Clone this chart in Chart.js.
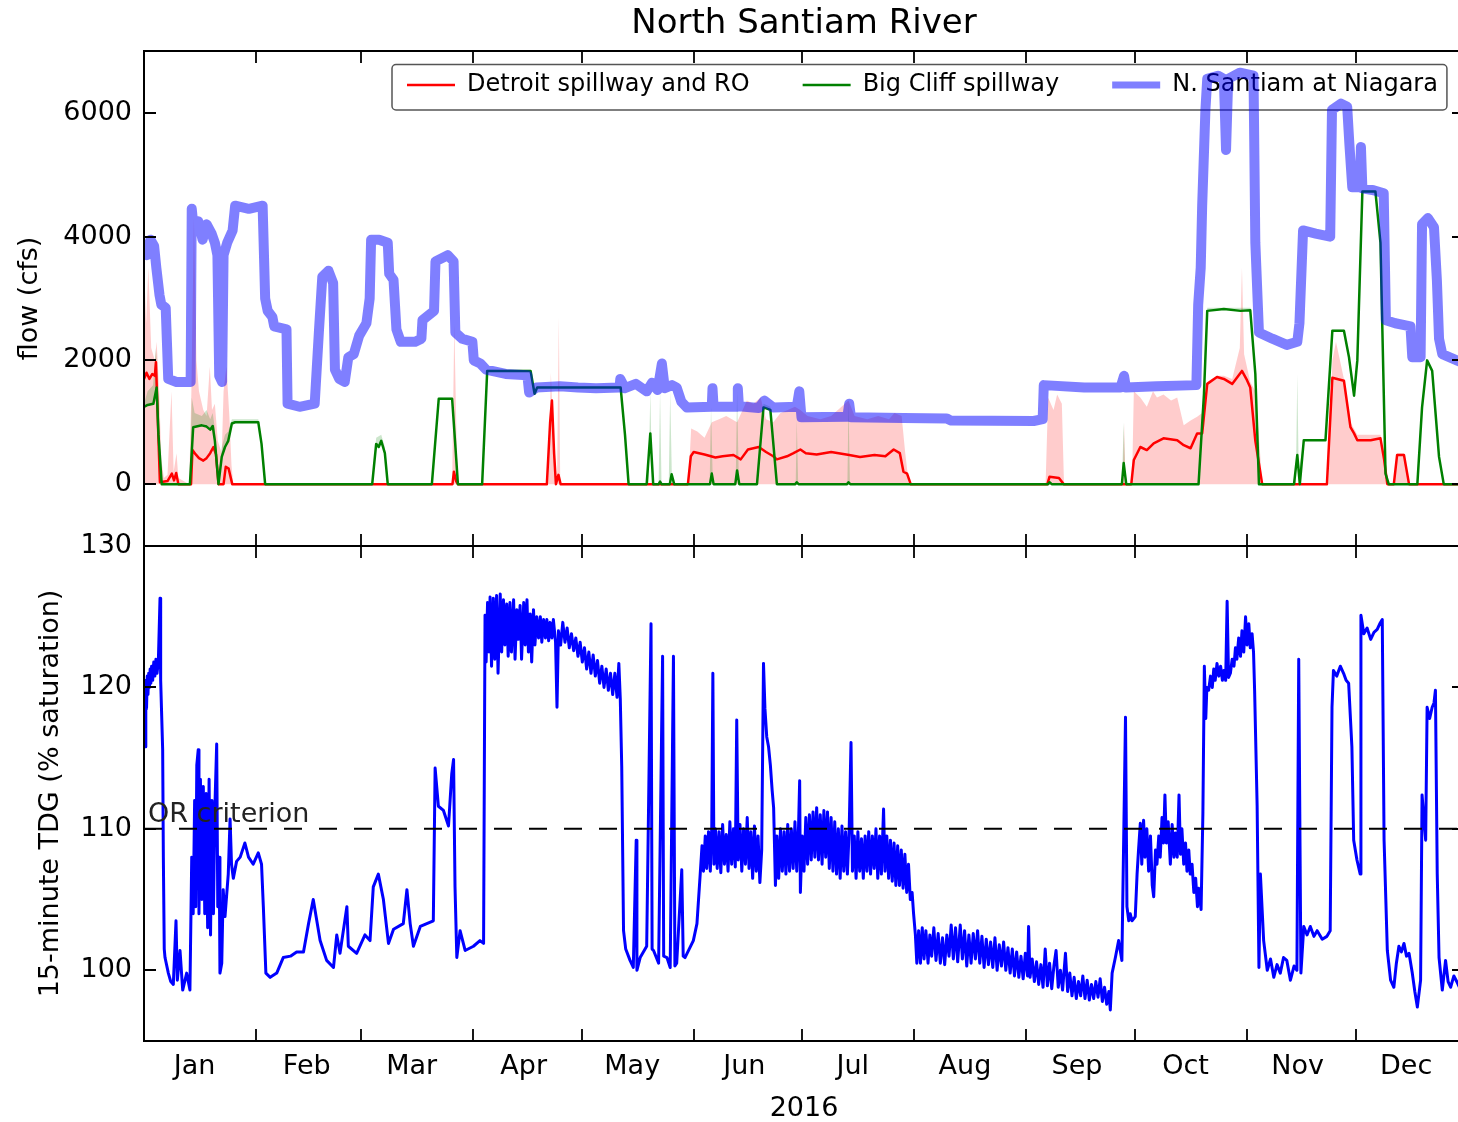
<!DOCTYPE html>
<html>
<head>
<meta charset="utf-8">
<title>North Santiam River</title>
<script src="https://cdn.jsdelivr.net/npm/chart.js@4.4.1/dist/chart.umd.min.js"></script>
<style>
  html, body { margin: 0; padding: 0; background: #fff; overflow: hidden; }
  #wrap { position: relative; width: 1466px; height: 1122px; }
</style>
</head>
<body>
<div id="wrap"><canvas id="riverChart" width="1466" height="1122"></canvas></div>
<script>
// ==========================
// North Santiam River – flow and TDG, 2016
// ==========================

// x values are days since 1 Jan 2016
const monthNames = ["Jan", "Feb", "Mar", "Apr", "May", "Jun", "Jul", "Aug", "Sep", "Oct", "Nov", "Dec"];
const monthStart = [0, 31, 60, 91, 121, 152, 182, 213, 244, 274, 305, 335];
const yearEnd = 365;
const flowTicks = [0, 2000, 4000, 6000];
const tdgTicks = [100, 110, 120, 130];
const orCriterion = 110;

// [day, cfs] – N. Santiam at Niagara
const niagara = [[0,3950],[0.8,3700],[1.8,3950],[2.8,3850],[3.4,3500],[4.3,3050],[4.8,2900],[6,2850],[6.4,2200],[6.7,1700],[9,1650],[12.9,1650],[13.2,4450],[13.8,4100],[15,4250],[16.2,3950],[17.3,4200],[18.7,4050],[19.6,3900],[20.3,3700],[20.8,1750],[21.6,1650],[22,3700],[23,3900],[24.5,4100],[25.2,4500],[29,4450],[32.8,4500],[33.5,3000],[34.2,2800],[35.5,2700],[36,2550],[39.4,2500],[39.7,1300],[43,1250],[47.2,1300],[47.8,1900],[48.4,2500],[49.3,3350],[51,3450],[52.3,3250],[52.8,1850],[54,1700],[55.5,1650],[56.5,2050],[58,2100],[59.5,2400],[61.5,2600],[62.4,3000],[62.8,3950],[65,3950],[67.4,3900],[67.8,3400],[69,3300],[69.8,2500],[71,2300],[75,2300],[76.7,2350],[77,2650],[80.2,2800],[80.6,3600],[84,3700],[85.6,3600],[86.1,2450],[88,2350],[90.8,2300],[91.2,2000],[93,1950],[94.6,1850],[100,1780],[106,1760],[106.5,1480],[108.5,1560],[115,1580],[120,1560],[125,1550],[131.5,1560],[131.7,1700],[133,1550],[136,1620],[139,1500],[140.5,1640],[142,1520],[143.2,1950],[144,1550],[146,1600],[147.3,1560],[148.6,1330],[150.1,1240],[157,1250],[157.2,1550],[157.5,1250],[164,1250],[164.2,1550],[164.5,1260],[170,1230],[171.5,1350],[174,1240],[180.5,1250],[181.2,1500],[181.8,1080],[194.5,1090],[195,1300],[195.5,1080],[210,1070],[222,1060],[223,1030],[246,1020],[248.5,1050],[248.8,1600],[260,1560],[270,1560],[271,1750],[271.5,1560],[280,1580],[291,1600],[291.5,2900],[292.2,3500],[292.6,4500],[293.5,6050],[294,6550],[297,6600],[298.6,6550],[299.2,5400],[299.8,6550],[303,6650],[306.8,6600],[307.3,3900],[308.3,2450],[312,2350],[316,2250],[318.9,2300],[319.5,2600],[320.5,4100],[324,4050],[328,4000],[328.5,6050],[331,6150],[332.7,6100],[333.3,5500],[334.1,4800],[336.2,4800],[336.5,5450],[336.9,4780],[340,4750],[342.8,4700],[343.4,2650],[346,2600],[350.2,2550],[350.7,2050],[353,2050],[353.4,4200],[355,4300],[356.7,4150],[357.5,3300],[358.1,2350],[359,2100],[363,2000],[365,1950]];

// [day, cfs] – Detroit spillway and RO, daily mean
const detroitMean = [[0,1700],[0.7,1800],[1.5,1700],[2.3,1780],[3,1750],[3.3,1970],[3.9,900],[4.4,30],[6.5,50],[7.7,170],[8.3,60],[8.9,180],[9.5,0],[13,0],[13.4,550],[14.3,480],[15.2,420],[16.4,380],[17.3,420],[18.3,500],[19.2,600],[19.9,480],[20.6,0],[22,0],[22.6,280],[23.4,250],[24.4,0],[85.3,0],[85.7,200],[86.3,50],[86.8,0],[111.4,0],[112.3,1000],[112.8,1350],[113.4,500],[113.9,0],[114.6,150],[115.2,0],[150.4,0],[151.2,450],[152,520],[155,480],[158,430],[160,450],[163,470],[165,400],[167,560],[170,600],[172,520],[174,450],[175,400],[177.8,450],[179.6,500],[181.5,560],[183,500],[186,480],[190,520],[195,470],[198,440],[202,470],[205,450],[207.3,560],[209,500],[210,200],[211,170],[212,0],[249.8,0],[250.4,120],[253,100],[254.3,0],[273,0],[273.7,390],[275.5,600],[277.3,550],[279.2,660],[281.9,740],[285.7,710],[287.5,630],[289.4,580],[291.2,820],[292.6,820],[294,1620],[296.7,1730],[298.6,1700],[300.9,1620],[303.6,1830],[305,1680],[305.9,1560],[307.3,700],[309.2,0],[327.1,0],[328.6,1720],[331.8,1670],[333.6,920],[334.6,820],[335.5,710],[339.2,710],[341.9,740],[342.9,400],[343.8,0],[345.6,0],[346.5,470],[348.4,470],[349.8,0],[365,0]];

// [day, cfs] – Detroit spillway and RO, daily maximum (shaded down to zero)
const detroitMax = [[0,3600],[0.6,2600],[1.2,3500],[2,2200],[3,2000],[3.5,2300],[4.2,1500],[4.8,400],[5.5,100],[6.5,150],[7.6,1500],[8.2,200],[9,500],[9.5,100],[12.5,0],[13.1,1500],[13.8,4300],[14.5,2000],[15.2,1500],[16.4,1200],[17.3,1100],[18.2,1900],[18.8,1200],[19.6,1300],[20.4,700],[21.5,500],[22,1500],[22.8,1900],[23.6,1100],[24.2,300],[24.7,0],[85.2,0],[85.8,2600],[86.5,500],[87,0],[111.8,0],[112.5,1800],[113.2,800],[114.2,0],[114.7,2700],[115.1,0],[150.5,0],[151.3,900],[153,850],[155,750],[157,1000],[159,1050],[161,1100],[164,1000],[166.7,1350],[168.5,1300],[170.5,1400],[172,1050],[174,1000],[176,1150],[178,1200],[180,1250],[181.5,1200],[183.5,1100],[187,1050],[190,1100],[194.8,1350],[196.5,1100],[200,1050],[203,1100],[206,1050],[207.5,1150],[209.5,1100],[210.5,500],[211.5,0],[249.3,0],[250,1400],[251.5,1200],[252.5,1450],[253.8,1300],[254.4,0],[270.6,0],[271,1000],[271.4,0],[273.2,0],[273.7,1500],[275.5,1400],[277.3,1250],[279,1500],[280.1,1400],[281.9,1450],[284,1350],[285.7,1400],[287.5,950],[289.4,1030],[291.2,1090],[292.6,1150],[294,1650],[296.7,1750],[298.6,1750],[300.9,1700],[303,2200],[303.6,3500],[304.2,2100],[305.9,1650],[307.3,1500],[308.5,600],[309.2,0],[327.5,0],[328.6,2000],[329.6,2300],[331.8,1700],[333.6,1000],[335.5,800],[341.9,800],[342.9,500],[343.8,0],[345.6,0],[346.5,500],[348.4,500],[349.8,0],[365,0]];

// [day, cfs] – Big Cliff spillway, daily mean
const bigCliffMean = [[0,1250],[1,1280],[2.6,1300],[3.5,1560],[4,800],[4.9,0],[12.7,0],[13.6,920],[16,950],[17.3,930],[18.3,880],[19,940],[19.6,700],[20.6,0],[21.5,440],[22.4,600],[23.3,700],[24.3,980],[25.2,1000],[31.6,1000],[32.5,650],[33.5,0],[63.1,0],[64.2,650],[64.9,600],[65.6,700],[66.6,500],[67.4,0],[79.6,0],[81.5,1380],[85.2,1380],[86,700],[86.8,0],[93.5,0],[94.9,1830],[106.9,1830],[108,1460],[108.7,1560],[131.8,1560],[133,800],[134,0],[139,0],[140,820],[140.8,0],[142.3,0],[142.7,40],[143.1,0],[145.4,0],[145.9,160],[146.6,0],[156.5,0],[157,170],[157.5,0],[163.5,0],[164,220],[164.6,0],[169.5,0],[171.3,1240],[173.2,1200],[175,0],[180.1,0],[180.5,30],[181,0],[194.4,0],[194.8,30],[195.3,0],[250,0],[250.4,30],[251,0],[270.4,0],[270.9,340],[271.6,0],[291.6,0],[293.1,1460],[294,2800],[298.6,2830],[303.2,2800],[305.9,2810],[307.3,1780],[308.3,0],[318,0],[318.9,470],[319.6,0],[320.7,710],[326.7,710],[328.6,2480],[331.8,2480],[333.2,2050],[334.6,1430],[335.5,2000],[336.9,4730],[340.5,4730],[341.9,3900],[343.3,170],[344.2,0],[352.1,0],[353.4,1240],[354.8,2000],[356.2,1830],[358.1,440],[359.4,0],[365,0]];

// [day, cfs] – Big Cliff spillway, daily maximum (shaded down to the mean)
const bigCliffMax = [[0,1300],[1,1500],[2.5,1600],[3.3,2200],[3.8,1700],[4.3,600],[4.9,0],[12.7,0],[13.2,1400],[14,1150],[16,1100],[17.3,1200],[18.3,1050],[19,1150],[19.6,900],[20.6,100],[21.5,600],[22.4,800],[23.3,850],[24.3,1050],[25.2,1050],[31.6,1050],[32.5,700],[33.5,0],[63.1,0],[64.2,750],[65.6,800],[66.6,600],[67.4,0],[79.6,0],[81.5,1400],[85.2,1400],[86,750],[86.8,0],[93.5,0],[94.9,1850],[106.9,1850],[108,1500],[108.7,1580],[131.8,1580],[133,900],[134,0],[139.5,0],[140,1500],[140.5,0],[142.3,0],[142.7,1500],[143.1,0],[145.1,0],[145.5,1500],[146,0],[156.4,0],[156.8,1250],[157.3,0],[163.6,0],[164,1500],[164.5,0],[169.5,0],[171.3,1300],[173.2,1250],[175,0],[180.2,0],[180.5,1050],[180.9,0],[194.5,0],[194.8,1350],[195.2,0],[270.4,0],[270.9,1000],[271.4,0],[291.6,0],[293.1,1500],[294,2850],[306,2850],[307.3,1800],[308.3,0],[318.5,0],[318.9,1780],[319.3,200],[320.7,720],[326.7,720],[328.6,2500],[331.8,2500],[333.2,2100],[334.6,1450],[335.5,2050],[336.9,4750],[340.5,4750],[341.9,3950],[343.3,200],[344.2,0],[352.1,0],[353.4,1260],[354.8,2020],[356.2,1850],[358.1,450],[359.4,0],[365,0]];

// [day, % saturation] – 15-minute TDG
const tdg = [[0.28,115.8],[0.5,120.5],[0.7,118.5],[0.9,120.8],[1.1,119.5],[1.3,121],[1.5,120],[1.7,121.3],[1.9,120.3],[2.1,121.5],[2.4,120.5],[2.7,121.8],[3,120.8],[3.3,122],[3.6,121],[3.96,121.8],[4.43,126.3],[4.61,120.5],[4.89,118],[5.16,115.6],[5.35,108],[5.6,101.5],[5.81,100.9],[6.73,99.8],[7.4,99.2],[8.11,99],[8.85,103.5],[9.22,99.3],[9.96,101.4],[10.7,98.6],[11.8,99.8],[12.7,98.6],[13.2,108],[13.6,104],[14,112],[14.3,104.5],[14.6,114.5],[15,115.6],[15.2,104],[15.6,113.5],[16,105],[16.4,113],[16.8,104],[17.2,112.5],[17.6,103],[18,113.5],[18.4,102.5],[18.8,112],[19.2,104],[19.6,111.5],[20.1,116],[20.4,104.5],[20.8,108],[21,99.8],[21.5,100.5],[21.9,105.7],[22.4,103.8],[23.3,106.8],[23.8,110.7],[24.2,107.5],[24.7,106.5],[25.6,107.7],[26.6,108],[27.9,109],[28.9,108],[30.2,107.5],[31.6,108.3],[32.5,107.5],[33,104.5],[33.7,99.8],[34.9,99.5],[36.7,99.8],[38.5,100.9],[40.5,101],[42.2,101.3],[44.1,101.3],[45.5,103.3],[46.8,105],[48.7,102.1],[50.5,100.7],[52.4,100.2],[53.3,102.5],[54.2,101.2],[56.1,104.5],[56.5,101.7],[58.8,101.2],[61.1,102.5],[62.5,102.1],[63.4,105.9],[64.8,106.8],[66.2,105],[67.6,101.9],[69,102.9],[71.7,103.3],[72.7,105.7],[73.6,103.3],[74.5,101.7],[76.4,103.1],[78.2,103.3],[80,103.5],[80.5,114.3],[81.4,111.6],[82.8,111.3],[84.2,110.2],[85.1,113.9],[85.6,114.9],[86,105.9],[86.5,100.9],[87.4,102.8],[88.8,101.4],[91.1,101.7],[92.9,102.1],[93.9,101.9],
  [94.3,125.1],[94.6,121.8],[95,126],[95.4,122.5],[95.7,126.4],[96.1,121.5],[96.6,126.3],[97,122],[97.5,126.5],[97.9,121],[98.5,126.6],[98.9,122.5],[99.4,126.2],[99.8,123],[100.3,125.9],[100.7,122.2],[101.2,126],[101.6,122.5],[102.2,126.2],[102.6,122],[103.1,125.5],[103.5,123.4],[104,125.8],[104.4,122],[105,126],[105.4,123],[105.9,126.2],[106.3,122.5],[106.8,125.2],[107.2,121.8],[107.7,125.5],[108.1,123],[108.6,125],[109.1,123.5],[109.6,125],[110,123.2],[110.5,124.8],[111,123.5],[111.4,124.8],[111.9,123.3],[112.3,124.6],[112.8,123.5],[113.2,124.8],[113.8,123.2],[114.2,118.6],[114.6,124],[115.2,123],[115.8,124.6],[116.4,123.2],[117,124.2],[117.6,122.8],[118.2,123.8],[118.8,122.6],[119.4,123.5],[120,122.2],[120.6,123.2],[121.2,121.8],[121.8,122.8],[122.4,121.3],[123,122.5],[123.6,121],[124.2,122.3],[124.8,120.8],[125.4,121.9],[126,120.3],[126.6,121.5],[127.2,120],[127.8,121.3],[128.4,119.8],[129,121],[129.6,119.5],[130.2,121],[130.8,119.3],[131.3,121.7],[131.7,119.2],
  [132.1,114.4],[132.6,102.8],[133.2,101.5],[134.4,100.7],[135.3,100.2],[136.1,109.2],[136.3,100],[137.2,100.9],[139,101.7],[140.2,124.5],[140.5,101.5],[140.9,101.4],[142.3,100.5],[143.4,122.2],[143.7,101],[144.6,100.9],[145.5,100.2],[146.4,122.2],[146.8,100.3],[147.3,100.5],[148.7,107.1],[149.1,101],[149.6,100.9],[151.9,102.1],[152.9,103.3],[153.8,106.8],
  [154.3,108.8],[154.7,107],[155.2,109.5],[155.6,107.2],[156.1,109.8],[156.6,107],[157,110.2],[157.3,121],[157.6,107.5],[158,110],[158.5,107.2],[159,109.8],[159.5,106.9],[160,110.3],[160.5,107.5],[161,109.6],[161.5,107],[162,110.5],[162.5,107.5],[163,110],[163.5,107.3],[163.9,117.7],[164.3,107.8],[164.8,110.3],[165.3,107],[165.8,110],[166.3,107.5],[166.8,110.8],[167.3,107.2],[167.8,109.8],[168.3,106.5],[168.8,110.2],[169.3,107],[169.8,109.5],[170.3,106.2],[170.8,108.5],[171.3,121.7],[171.7,118.5],[172.2,116.5],[172.7,115.8],[173.2,114.5],[173.7,112.7],[174.1,111.5],[174.6,106],[175,109.5],[175.5,106.5],[176,110],[176.5,107],[177,109.8],[177.5,106.8],[178,110.3],[178.5,107],[179,110],[179.5,107.2],[180,110.5],[180.5,107],[181,110.2],[181.3,113.4],[181.5,105.5],[182,109.5],[182.5,107],[183,110.8],[183.5,107.5],[184,111],[184.5,107.8],[185,111.2],[185.5,108],[186,111.5],[186.5,107.8],[187,111],[187.5,107.5],[188,111.3],[188.5,108],[189,111.2],[189.5,107.2],[190,110.8],[190.5,107],[191,110.5],[191.5,106.8],[192,110],[192.5,106.5],[193,110.2],[193.5,107],[194,109.8],[194.5,106.8],[195,110],[195.5,116.1],[195.9,107],[196.4,109.5],[196.9,106.5],[197.4,109.8],[197.9,107],[198.4,109.3],[198.9,106.5],[199.4,109.5],[199.9,107],[200.4,109.8],[200.9,106.8],[201.4,109.5],[201.9,107.2],[202.4,110],[202.9,106.5],[203.4,109.5],[203.9,106.8],[204.5,111.4],[204.9,107],[205.4,109.5],[205.9,106.5],[206.4,109.2],[206.9,106.3],[207.4,109],[207.9,106],[208.4,108.8],[208.9,106],[209.4,108.5],[209.9,105.8],[210.4,108.2],[210.9,105.5],[211.4,107.5],[211.9,105],[212.4,105.5],[212.8,104],[213.3,102.5],[213.7,100.5],[214.2,102.8],[214.7,100.5],
  [215.2,103],[215.7,100.8],[216.2,102.8],[216.8,100.5],[217.3,102.5],[217.8,101],[218.4,103],[219,100.7],[219.6,102.6],[220.2,100.5],[220.8,102.3],[221.4,100.4],[222,102.5],[222.6,101],[223.2,103.2],[223.8,100.8],[224.4,103],[225,100.6],[225.7,103.2],[226.3,100.8],[226.9,102.8],[227.5,100.3],[228.1,102.5],[228.7,100.5],[229.3,102.6],[229.9,100.8],[230.5,102.8],[231.1,100.5],[231.7,102.4],[232.3,100.2],[232.9,102.2],[233.5,100.4],[234.1,102],[234.7,100.2],[235.3,102.3],[235.9,100],[236.5,101.8],[237.1,100.3],[237.7,102],[238.3,100],[238.9,101.6],[239.5,99.8],[240.1,101.5],[240.7,99.6],[241.3,101.3],[241.9,99.5],[242.5,101],[243.1,99.4],[243.7,101.2],[244.3,99.6],[244.6,103.1],[245,99.5],[245.6,100.8],[246.2,99.2],[246.8,100.6],[247.4,99],[248,100.4],[248.6,98.8],[249.2,101.5],[249.8,98.9],[250.4,100.5],[251,98.7],[251.6,100.3],[252.2,101.4],[252.8,98.8],[253.4,100],[254,98.6],[254.8,101.2],[255.4,98.5],[256,99.8],[256.6,98.2],[257.2,99.5],[257.8,98],[258.4,99.2],[259,98.2],[259.6,99.6],[260.2,98],[260.8,99.3],[261.4,97.9],[262,99],[262.6,98],[263.2,99.2],[263.8,98.1],[264.4,99.4],[265,97.8],[265.6,98.8],[266.2,97.6],[266.8,98.5],[267.2,97.2],[267.7,99.8],[268.6,100.9],[269.5,102.1],[270.4,100.7],[271.4,117.9],
  [271.8,104.5],[272.3,103.5],[272.7,104],[273.2,103.5],[274.1,103.8],[274.6,106.8],[275,108.5],[275.5,110.4],[275.9,107.5],[276.4,110.6],[276.8,108],[277.3,110],[277.8,107],[278.3,109.5],[278.8,106],[279.2,105.2],[279.7,108.5],[280.1,107.5],[280.6,109.5],[281,108],[281.5,110.8],[281.9,109],[282.3,112.4],[282.7,109],[283.2,110.5],[283.8,107.5],[284.3,110.3],[284.8,108],[285.2,109.7],[285.7,108],[286.2,112.4],[286.6,108.2],[287,110],[287.5,107.5],[288,109],[288.4,107],[288.9,108.5],[289.3,106.8],[289.8,107.5],[290.3,105.5],[290.8,106.5],[291.3,104.5],[291.6,105.8],[292.3,104.3],[292.8,111.1],[293.2,121.5],[293.6,117.8],[293.9,120],[294.4,119.8],[294.9,120.8],[295.4,120],[295.8,121.3],[296.2,120.5],[296.7,121.7],[297.2,120.8],[297.7,121.5],[298.2,120.5],[298.6,121.2],[299.1,120.5],[299.5,126.1],[299.9,120.7],[300.4,121],[300.9,122],[301.4,121.5],[301.8,122.8],[302.2,122],[302.7,123.5],[303.2,122.2],[303.6,124],[304.1,122.5],[304.6,125],[305,123],[305.5,124.5],[305.9,122.8],[306.4,123.8],[306.8,122.5],[307.1,119.8],
  [307.8,111.6],[308.3,100.2],[308.7,106.8],[309.6,102.1],[310.6,100],[311.5,100.8],[312.4,99.5],[313.3,100.4],[314.2,99.8],[315.1,100.9],[316,100.7],[317,99.3],[318,100.3],[318.8,100],[319.3,122],[319.9,99.8],[320.7,103.1],[321.6,102.5],[322.5,103.1],[323.5,102.4],[324.4,102.8],[325.8,102.2],[327.1,102.4],[328,102.8],[328.5,118.6],[328.9,121.2],[329.8,120.8],[330.8,121.5],[331.7,121],[332.4,120.5],[333.1,120.3],[334,115.8],[334.5,109.2],[335.4,107.8],[336.3,106.8],[336.5,125.1],[337.3,123.8],[338.2,124.2],[339.2,123.4],[340.1,123.9],[341,124.1],[341.7,124.5],[342.4,124.8],[342.9,109.2],[343.8,101.4],[344.7,99.3],[345.6,98.8],[346.3,100.5],[347,101.7],[347.7,101.3],[348.4,101.9],[349.1,101],[349.8,101.2],[350.7,99.8],[351.4,98.5],[352.1,97.4],[353,99.3],[353.4,112.4],[354.4,109.2],[354.8,118.6],[355.5,117.8],[356.2,118.6],[356.7,118.9],[357.1,119.8],[357.6,106.8],[358.1,100.9],[359,98.6],[359.9,100.7],[360.6,99.2],[361.3,98.8],[362.2,99.6],[363.2,99.1],[364.1,98.6],[365,98.8]];

const FONT = "'DejaVu Sans', sans-serif";
Chart.defaults.font.family = FONT;
Chart.defaults.color = "#000";

const toXY = pairs => pairs.map(([x, y]) => ({ x, y }));

// Frames, inward ticks, legend box and the criterion note
const panelFrame = {
  id: "panelFrame",
  afterLayout(chart) {
    // put the legend inside the top panel, near its top edge
    const lg = chart.legend;
    const pad = lg.options.labels.padding;
    const area = chart.chartArea;
    lg.left = area.left + 263 - pad;
    lg.top = area.top + 34 - 12 - pad;
    lg.right = lg.left + 3000;
    lg.bottom = lg.top + 2 * pad + 24;
    lg.width = lg.right - lg.left;
    lg.height = lg.bottom - lg.top;
  },
  beforeDatasetsDraw(chart) {
    const hb = chart.legend.legendHitBoxes;
    if (!hb || !hb.length) return;
    const last = hb[hb.length - 1];
    const mid = hb[0].top + hb[0].height / 2;
    const x0 = hb[0].left - 15, x1 = last.left + last.width + 9;
    const y0 = mid - 20.5, y1 = mid + 25;
    const ctx = chart.ctx;
    ctx.save();
    ctx.strokeStyle = "#555";
    ctx.lineWidth = 1.5;
    ctx.beginPath();
    ctx.roundRect(x0, y0, x1 - x0, y1 - y0, 4);
    ctx.stroke();
    ctx.restore();
  },
  afterDatasetsDraw(chart) {
    const { ctx, chartArea: { left, right }, scales: { x, yFlow, yTdg } } = chart;
    const tick = 12;
    ctx.save();
    ctx.strokeStyle = "#000";
    [yFlow, yTdg].forEach(s => {
      ctx.lineWidth = 1.8;
      ctx.beginPath();
      s.ticks.forEach(t => {
        const py = Math.round(s.getPixelForValue(t.value));
        ctx.moveTo(left, py); ctx.lineTo(left + tick, py);
        ctx.moveTo(right, py); ctx.lineTo(right - tick, py);
      });
      monthStart.slice(1).forEach(m => {
        const px = Math.round(x.getPixelForValue(m));
        ctx.moveTo(px, s.top); ctx.lineTo(px, s.top + tick);
        ctx.moveTo(px, s.bottom); ctx.lineTo(px, s.bottom - tick);
      });
      ctx.stroke();
      ctx.lineWidth = 2;
      ctx.strokeRect(left, s.top, right - left, s.bottom - s.top);
    });
    // label of the Oregon TDG criterion
    ctx.fillStyle = "#222";
    ctx.font = "27px " + FONT;
    ctx.textAlign = "left";
    ctx.textBaseline = "alphabetic";
    ctx.fillText("OR criterion", left + 4, yTdg.getPixelForValue(orCriterion) - 7);
    ctx.restore();
  }
};

const chart = new Chart(document.getElementById("riverChart"), {
  type: "line",
  data: {
    datasets: [
      { label: "Detroit spillway and RO", data: toXY(detroitMean), yAxisID: "yFlow", borderColor: "#ff0000", borderWidth: 2.5, order: 4 },
      { label: "Big Cliff spillway", data: toXY(bigCliffMean), yAxisID: "yFlow", borderColor: "#008000", borderWidth: 2.5, order: 3 },
      { label: "N. Santiam at Niagara", data: toXY(niagara), yAxisID: "yFlow", borderColor: "rgba(0,0,255,0.5)", borderWidth: 10, order: 2 },
      { label: "Detroit range", data: toXY(detroitMax), yAxisID: "yFlow", borderColor: "rgba(0,0,0,0)", borderWidth: 1, backgroundColor: "rgba(255,0,0,0.2)", fill: "origin", order: 6 },
      { label: "Big Cliff range", data: toXY(bigCliffMax), yAxisID: "yFlow", borderColor: "rgba(0,0,0,0)", borderWidth: 1, backgroundColor: "rgba(0,128,0,0.2)", fill: 1, order: 5 },
      { label: "15-minute TDG", data: toXY(tdg), yAxisID: "yTdg", borderColor: "#0000ff", borderWidth: 3, order: 1 },
      { label: "OR criterion", data: [{ x: monthStart[0], y: orCriterion }, { x: yearEnd, y: orCriterion }], yAxisID: "yTdg", borderColor: "#000", borderWidth: 2, borderDash: [18, 17], order: 0 }
    ]
  },
  options: {
    responsive: false,
    animation: false,
    events: [],
    layout: { padding: { left: 0, right: 2, top: 0, bottom: 0 } },
    elements: {
      point: { radius: 0 },
      line: { tension: 0, borderJoinStyle: "round", fill: false }
    },
    scales: {
      x: {
        type: "linear",
        min: 0,
        max: yearEnd,
        grid: { display: false, drawTicks: false },
        border: { display: false },
        afterBuildTicks: s => { s.ticks = monthStart.map(d => ({ value: d + 14 })); },
        ticks: { autoSkip: false, maxRotation: 0, padding: 10, font: { size: 27 }, color: "#000", callback: (v, i) => monthNames[i] },
        title: { display: true, text: "2016", font: { size: 27, lineHeight: 1 }, padding: 0, color: "#000" },
        afterFit: s => { s.height = 81; }
      },
      yFlow: {
        type: "linear",
        position: "left",
        stack: "panels",
        stackWeight: 1,
        weight: 1,
        min: -1000,
        max: 7000,
        grid: { display: false, drawTicks: false },
        border: { display: false },
        afterBuildTicks: s => { s.ticks = flowTicks.map(v => ({ value: v })); },
        ticks: { padding: 12, font: { size: 27 }, color: "#000", callback: v => String(v) },
        title: { display: true, text: "flow (cfs)", font: { size: 27, lineHeight: 1 }, padding: { top: 16, bottom: 0 }, color: "#000" },
        afterFit: s => { s.width = 144; }
      },
      yTdg: {
        type: "linear",
        position: "left",
        stack: "panels",
        stackWeight: 1,
        weight: 0,
        min: 95,
        max: 130,
        grid: { display: false, drawTicks: false },
        border: { display: false },
        afterBuildTicks: s => { s.ticks = tdgTicks.map(v => ({ value: v })); },
        ticks: { padding: 12, font: { size: 27 }, color: "#000", callback: v => String(v) },
        title: { display: true, text: "15-minute TDG (% saturation)", font: { size: 27, lineHeight: 1 }, padding: { top: 37, bottom: 0 }, color: "#000" },
        afterFit: s => { s.width = 144; }
      }
    },
    plugins: {
      title: {
        display: true,
        text: "North Santiam River",
        fullSize: false,
        font: { size: 34, weight: "normal" },
        color: "#000",
        padding: { top: 4, bottom: 5.2 }
      },
      legend: {
        position: "top",
        align: "start",
        maxHeight: 1,
        labels: {
          font: { size: 24 },
          color: "#000",
          padding: 53,
          usePointStyle: true,
          pointStyleWidth: 48,
          boxHeight: 24,
          generateLabels: ch => ch.data.datasets.slice(0, 3).map((ds, i) => ({
            text: ds.label,
            strokeStyle: ds.borderColor,
            fillStyle: ds.borderColor,
            lineWidth: Math.min(ds.borderWidth, 7),
            pointStyle: "line",
            fontColor: "#000",
            datasetIndex: i
          }))
        }
      },
      tooltip: { enabled: false }
    }
  },
  plugins: [panelFrame]
});
</script>
</body>
</html>
